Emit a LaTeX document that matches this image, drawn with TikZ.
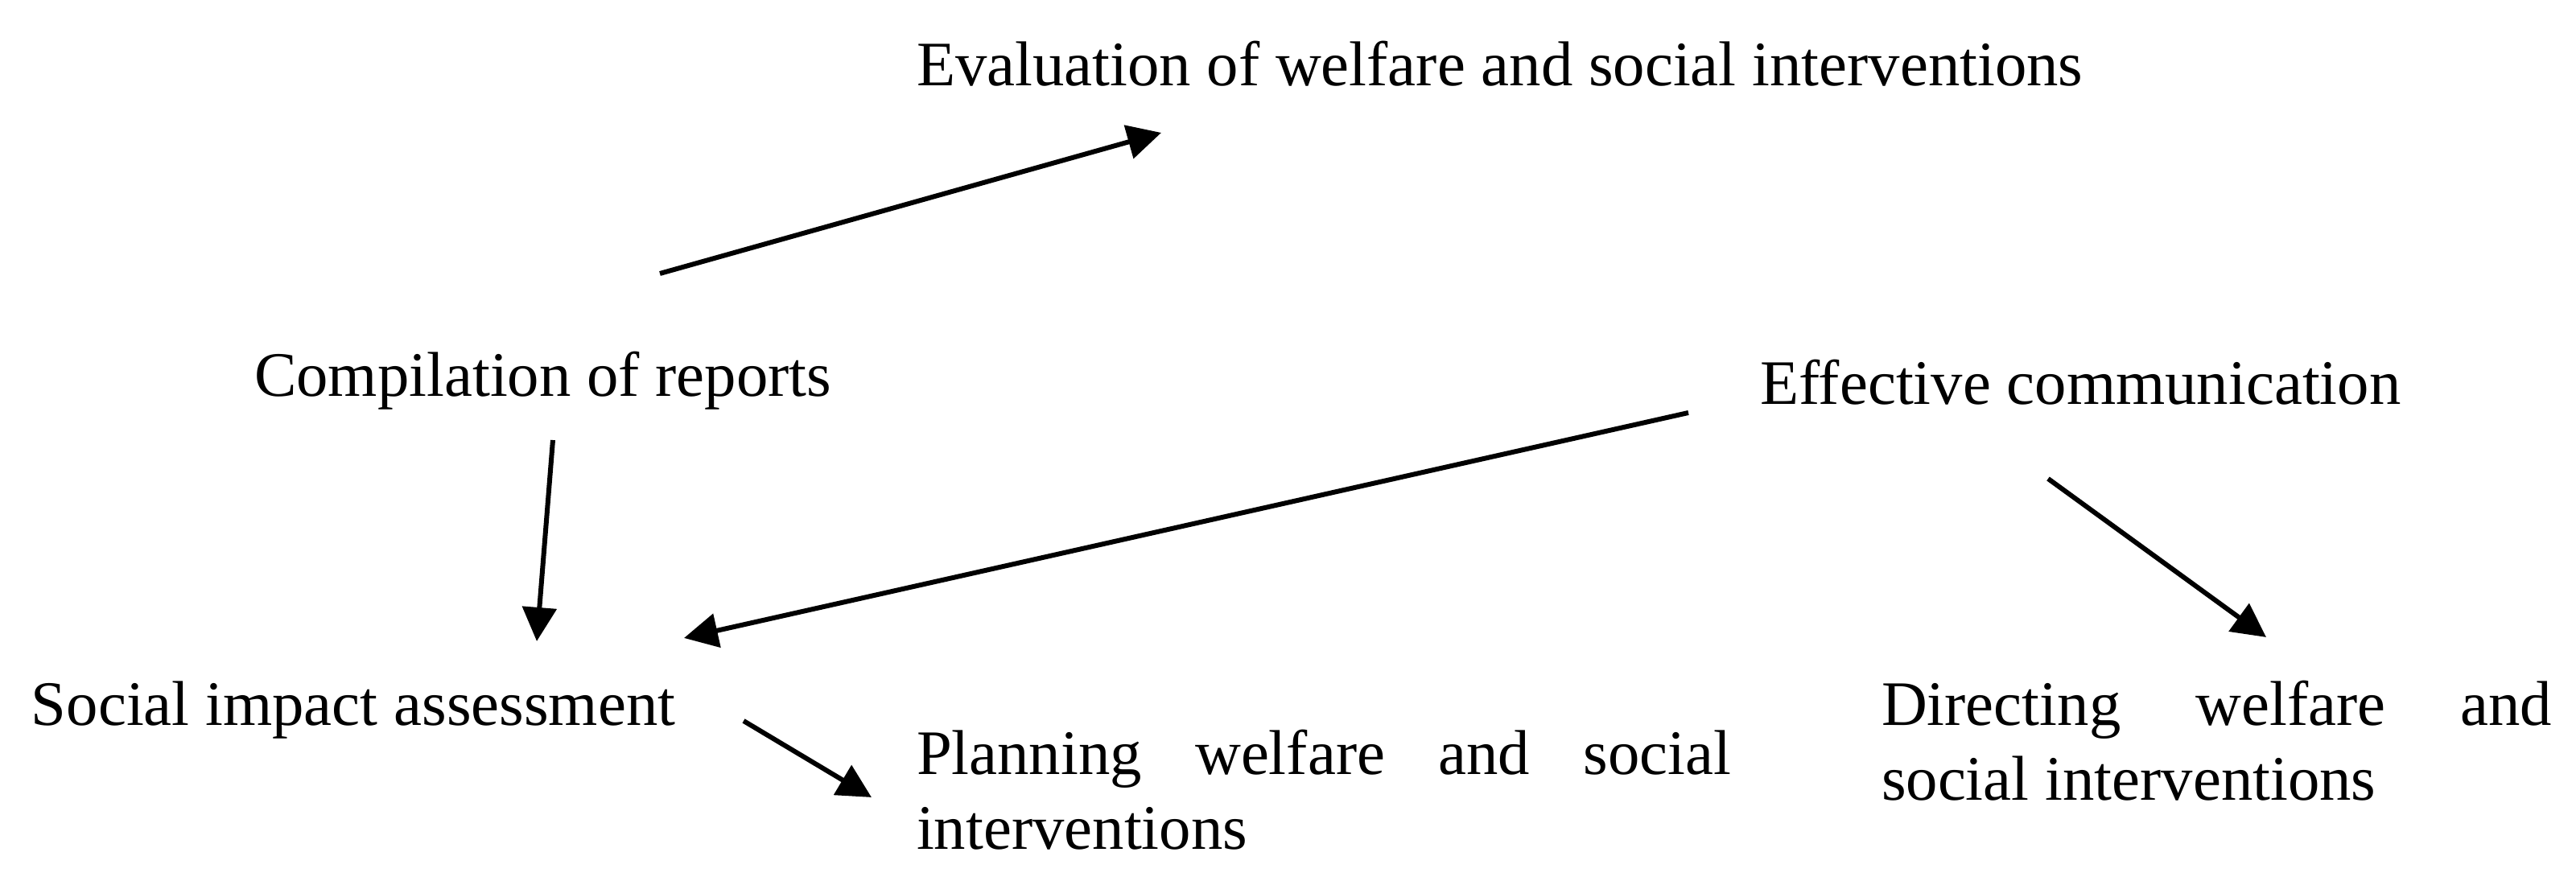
\documentclass[tikz,border=0pt]{standalone}
\usepackage{fontspec}
\setmainfont{Liberation Serif}
\usetikzlibrary{arrows.meta}

\begin{document}
\begin{tikzpicture}[line width = 0.6mm,
    lbl/.style = {anchor=base west, inner sep=0pt, font=\fontsize{22.4pt}{26.4pt}\selectfont},
    para/.style = {lbl, align=justify},
    arr/.style = {-{Triangle[length=4.2mm, width=4.2mm]}}]
\useasboundingbox (0,0) rectangle (32.01,10.95);
\draw (11.36,9.88) node[lbl](eval){Evaluation of welfare and social interventions}
    (3.13,6.02) node[lbl](comp){Compilation of reports}
    (21.84,5.92) node[lbl](effc){Effective communication}
    (0.36,1.93) node[lbl](sia){Social impact assessment}
    (11.36,1.32) node[para, text width=101.2mm](plan){Planning \hfill welfare \hfill and \hfill social\linebreak interventions}
    (23.35,1.93) node[para, text width=83.3mm](dirc){Directing \hfill welfare \hfill and\linebreak social interventions};
\path (8.20,7.55) coordinate (c1) (14.43,9.30) coordinate (e1)
    (6.87,5.48) coordinate (c2) (6.67,2.98) coordinate (s2)
    (20.98,5.82) coordinate (f3) (8.50,3.02) coordinate (s3)
    (9.24,1.99) coordinate (s4) (10.83,1.04) coordinate (p4)
    (25.45,5.00) coordinate (f5) (28.16,3.03) coordinate (d5);
    \draw [arr] (c1) -- (e1);
    \draw [arr] (c2) -- (s2);
    \draw [arr] (f3) -- (s3);
    \draw [arr] (s4) -- (p4);
    \draw [arr] (f5) -- (d5);
\end{tikzpicture}
\end{document}
